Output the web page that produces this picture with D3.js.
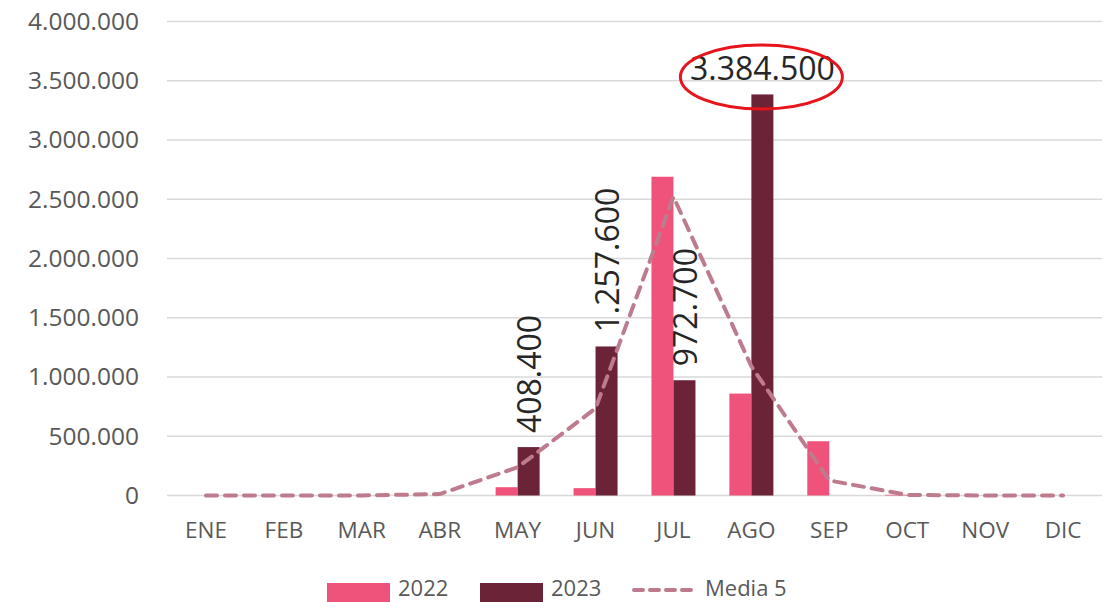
<!DOCTYPE html>
<html>
<head>
<meta charset="utf-8">
<script src="https://cdn.jsdelivr.net/npm/d3@7"></script>
<style>
  html, body { margin: 0; padding: 0; background: #fff; }
  svg { display: block; font-family: "Open Sans", "Noto Sans", sans-serif; }
</style>
</head>
<body>
<svg id="chart" width="1109" height="602"></svg>
<script>
// Monthly totals, two seasons plus the five-year average
const months = ["ENE", "FEB", "MAR", "ABR", "MAY", "JUN", "JUL", "AGO", "SEP", "OCT", "NOV", "DIC"];
const values2022 = [0, 0, 0, 0, 70000, 62000, 2690000, 860000, 458000, 6000, 0, 0];
const values2023 = [0, 0, 0, 0, 408400, 1257600, 972700, 3384500, 0, 0, 0, 0];
const media5 = [0, 0, 1000, 12000, 238000, 735000, 2520000, 1090000, 127000, 5000, 0, 0];
const seriesNames = ["2022", "2023"];
const lineName = "Media 5";
const yTicks = [0, 500000, 1000000, 1500000, 2000000, 2500000, 3000000, 3500000, 4000000];
// Bars that carry a value label: vertical labels, plus the highlighted peak
const labelledVertical = [{ month: "MAY", value: 408400 }, { month: "JUN", value: 1257600 }, { month: "JUL", value: 972700 }];
const labelledPeak = { month: "AGO", value: 3384500 };

const colors = { "2022": "#EF537B", "2023": "#6B2338", line: "#BD7B8D" };

const svg = d3.select("#chart");
const fmt = v => d3.format(",")(v).replace(/,/g, ".");

const x = d3.scaleBand().domain(months).range([167, 1102]).paddingInner(0.435).paddingOuter(0.2175);
const xs = d3.scaleBand().domain(seriesNames).range([0, x.bandwidth()]);
const y = d3.scaleLinear().domain([0, 4000000]).range([495.5, 21.5]);

// Horizontal gridlines
svg.append("g")
  .selectAll("line")
  .data(yTicks)
  .join("line")
  .attr("x1", 167).attr("x2", 1102)
  .attr("y1", d => y(d)).attr("y2", d => y(d))
  .attr("stroke", "#d9d9d9").attr("stroke-width", 1.3);

// Y axis labels
const yAxis = d3.axisLeft(y).tickValues(yTicks).tickFormat(fmt).tickSize(0).tickPadding(0);
const gy = svg.append("g").attr("transform", "translate(139,0)").call(yAxis);
gy.select(".domain").remove();
gy.selectAll("text")
  .attr("fill", "#595959").attr("font-size", 24.5)
  .attr("font-family", "'Open Sans', sans-serif");

// X axis labels
const xAxis = d3.axisBottom(x).tickSize(0).tickPadding(0);
const gx = svg.append("g").attr("transform", "translate(0,522)").call(xAxis);
gx.select(".domain").remove();
gx.selectAll("text")
  .attr("fill", "#595959").attr("font-size", 22.5)
  .attr("font-family", "'Open Sans', sans-serif");

// Bars
const rows = months.map((m, i) => ({ month: m, "2022": values2022[i], "2023": values2023[i] }));
svg.append("g")
  .selectAll("g")
  .data(rows)
  .join("g")
  .attr("transform", d => `translate(${x(d.month)},0)`)
  .selectAll("rect")
  .data(d => seriesNames.map(s => ({ key: s, value: d[s] })).filter(e => e.value > 0))
  .join("rect")
  .attr("x", d => xs(d.key))
  .attr("width", xs.bandwidth())
  .attr("y", d => y(d.value))
  .attr("height", d => y(0) - y(d.value))
  .attr("fill", d => colors[d.key]);

// Five-year average line
const line = d3.line()
  .x((d, i) => x(months[i]) + x.bandwidth() / 2)
  .y(d => y(d));
svg.append("path")
  .datum(media5)
  .attr("d", line)
  .attr("fill", "none")
  .attr("stroke", colors.line)
  .attr("stroke-width", 4)
  .attr("stroke-dasharray", "11,8")
  .attr("stroke-linecap", "round");

// Vertical value labels above the 2023 bars
labelledVertical.forEach(l => {
  const cx = x(l.month) + xs("2023") + xs.bandwidth() / 2;
  const cy = y(l.value) - 14;
  svg.append("text")
    .attr("transform", `translate(${cx},${cy}) rotate(-90)`)
    .attr("dominant-baseline", "central")
    .attr("text-anchor", "start")
    .attr("font-size", 32)
    .attr("fill", "#262626")
    .text(fmt(l.value));
});

// Highlighted peak label with red ring
{
  const cx = x(labelledPeak.month) + xs("2023") + xs.bandwidth() / 2;
  svg.append("text")
    .attr("x", cx).attr("y", y(labelledPeak.value) - 14)
    .attr("text-anchor", "middle")
    .attr("font-size", 32)
    .attr("fill", "#262626")
    .text(fmt(labelledPeak.value));
  svg.append("ellipse")
    .attr("cx", cx - 1).attr("cy", 77)
    .attr("rx", 81).attr("ry", 32)
    .attr("fill", "none")
    .attr("stroke", "#E8141B")
    .attr("stroke-width", 3);
}

// Legend
const legend = svg.append("g");
const legendItems = [
  { name: seriesNames[0], type: "rect", color: colors["2022"], x: 327 },
  { name: seriesNames[1], type: "rect", color: colors["2023"], x: 480 },
  { name: lineName, type: "line", color: colors.line, x: 634 }
];
legendItems.forEach(it => {
  if (it.type === "rect") {
    legend.append("rect").attr("x", it.x).attr("y", 583).attr("width", 63).attr("height", 22).attr("fill", it.color);
  } else {
    legend.append("line")
      .attr("x1", it.x).attr("x2", it.x + 62).attr("y1", 590).attr("y2", 590)
      .attr("stroke", it.color).attr("stroke-width", 4)
      .attr("stroke-dasharray", "9,7").attr("stroke-linecap", "round");
  }
  legend.append("text")
    .attr("x", it.x + 71).attr("y", 596)
    .attr("font-size", 22).attr("fill", "#595959")
    .text(it.name);
});
</script>
</body>
</html>
